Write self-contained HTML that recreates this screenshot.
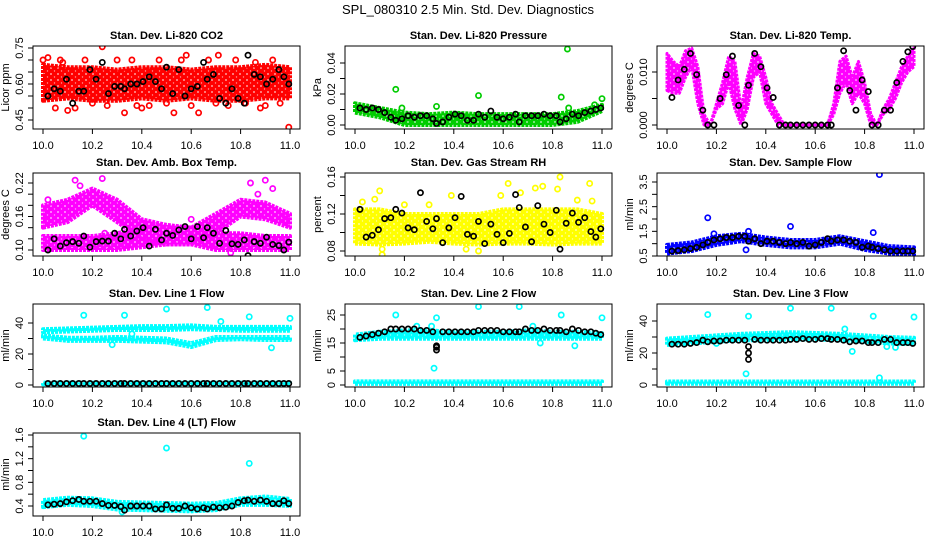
<!DOCTYPE html>
<html><head><meta charset="utf-8"><style>
html,body{margin:0;padding:0;background:#fff;}
svg{display:block;font-family:"Liberation Sans",sans-serif;}
</style></head><body>
<svg id="chart" width="936" height="540" viewBox="0 0 936 540">
<text x="468" y="14" text-anchor="middle" font-size="13">SPL_080310  2.5 Min. Std. Dev. Diagnostics</text>
</svg>
<script>
const xs11 = [10.0,10.1,10.2,10.3,10.4,10.5,10.6,10.7,10.8,10.9,11.0];
const xs41 = [10.000,10.025,10.050,10.075,10.100,10.125,10.150,10.175,10.200,10.225,10.250,10.275,10.300,10.325,10.350,10.375,10.400,10.425,10.450,10.475,10.500,10.525,10.550,10.575,10.600,10.625,10.650,10.675,10.700,10.725,10.750,10.775,10.800,10.825,10.850,10.875,10.900,10.925,10.950,10.975,11.000];
const xTicks = [10.0,10.2,10.4,10.6,10.8,11.0];
const xTickLabels = ["10.0","10.2","10.4","10.6","10.8","11.0"];
const blackX = [10.02,10.045,10.07,10.095,10.12,10.145,10.165,10.19,10.215,10.24,10.265,10.29,10.315,10.33,10.355,10.38,10.405,10.43,10.455,10.48,10.5,10.525,10.55,10.575,10.6,10.625,10.65,10.665,10.69,10.715,10.74,10.765,10.79,10.815,10.83,10.855,10.88,10.905,10.93,10.955,10.975,10.995];

const p1Lo = [0.53,0.54,0.53,0.53,0.54,0.53,0.54,0.53,0.53,0.54,0.54];
const p1Hi = [0.68,0.67,0.67,0.66,0.67,0.67,0.66,0.67,0.67,0.68,0.67];
const p1ScX = [10.0,10.02,10.05,10.07,10.1,10.13,10.17,10.2,10.24,10.26,10.3,10.33,10.36,10.4,10.43,10.47,10.5,10.53,10.56,10.6,10.63,10.67,10.7,10.71,10.75,10.78,10.82,10.86,10.9,10.93,10.96,10.995,10.08,10.38,10.58,10.88];
const p1ScY = [0.70,0.71,0.50,0.70,0.49,0.50,0.70,0.52,0.755,0.51,0.70,0.48,0.70,0.50,0.51,0.70,0.52,0.48,0.70,0.51,0.48,0.70,0.52,0.72,0.51,0.70,0.52,0.69,0.51,0.70,0.52,0.42,0.69,0.51,0.72,0.50];
const p1Black = [0.55,0.58,0.57,0.62,0.52,0.57,0.57,0.66,0.62,0.69,0.56,0.59,0.59,0.58,0.60,0.60,0.61,0.63,0.61,0.58,0.67,0.56,0.66,0.55,0.58,0.59,0.69,0.62,0.64,0.54,0.52,0.58,0.54,0.52,0.72,0.64,0.63,0.60,0.62,0.66,0.63,0.60];
const p2Lo = [0.008,0.005,0,0,0,0,0,0,0,0.002,0.009];
const p2Hi = [0.014,0.011,0.008,0.007,0.008,0.007,0.007,0.007,0.007,0.009,0.013];
const p2ScX = [10.165,10.5,10.835,10.86,11.0,10.19,10.33,10.865,10.97];
const p2ScY = [0.023,0.019,0.018,0.049,0.017,0.011,0.012,0.011,0.013];
const p2Black = [0.011,0.010,0.011,0.010,0.008,0.005,0.003,0.004,0.006,0.005,0.006,0.006,0.004,0.001,0.002,0.005,0.007,0.006,0.003,0.003,0.007,0.005,0.009,0.005,0.004,0.005,0.007,0.002,0.006,0.006,0.006,0.007,0.006,0.006,0.002,0.004,0.007,0.006,0.008,0.009,0.010,0.011];
const p3Lo = [0.0065,0.006,0.006,0.009,0.011,0.004,0,0,0.003,0.004,0.008,0.003,0,0.003,0.009,0.010,0.004,0.002,0,0,0,0,0,0,0,0,0,0.002,0.006,0.008,0.004,0.006,0.004,0,0,0.002,0.003,0.005,0.008,0.010,0.011];
const p3Hi = [0.0135,0.012,0.011,0.014,0.0145,0.011,0.002,0,0.004,0.008,0.013,0.012,0.003,0.009,0.0135,0.013,0.009,0.004,0.002,0,0,0,0,0,0,0,0,0.004,0.012,0.013,0.009,0.012,0.008,0.002,0,0.003,0.005,0.008,0.011,0.013,0.0145];
const p3Black = [0.0052,0.0085,0.0105,0.0135,0.0095,0.0028,0,0,0.005,0.0095,0.013,0.0037,0,0.0075,0.0135,0.011,0.007,0.0052,0,0,0,0,0,0,0,0,0,0,0.007,0.014,0.0065,0.0028,0.0085,0.0063,0,0,0.0028,0.0028,0.008,0.012,0.0138,0.0148];
const p4LoA = [0.10,0.10,0.10,0.10,0.105,0.11,0.11,0.10,0.10,0.10,0.10];
const p4HiA = [0.125,0.125,0.125,0.13,0.14,0.14,0.14,0.13,0.13,0.125,0.125];
const p4LoB = [0.14,0.15,0.18,0.15,0.12,0.11,0.11,0.13,0.16,0.155,0.14];
const p4HiB = [0.18,0.19,0.21,0.19,0.155,0.145,0.14,0.165,0.19,0.185,0.165];
const p4ScX = [10.02,10.13,10.15,10.24,10.25,10.9,10.93,10.76,10.6,10.87,10.98,10.84];
const p4ScY = [0.19,0.225,0.215,0.228,0.13,0.225,0.21,0.095,0.155,0.20,0.16,0.22];
const p4Black = [0.10,0.12,0.107,0.113,0.115,0.112,0.125,0.105,0.115,0.116,0.116,0.13,0.12,0.137,0.125,0.134,0.14,0.107,0.137,0.118,0.13,0.126,0.136,0.142,0.12,0.142,0.122,0.14,0.13,0.112,0.135,0.111,0.11,0.118,0.09,0.115,0.112,0.123,0.11,0.108,0.100,0.114];
const p5Lo = [0.088,0.087,0.088,0.09,0.088,0.087,0.088,0.088,0.087,0.088,0.088];
const p5Hi = [0.125,0.125,0.12,0.12,0.12,0.12,0.125,0.125,0.125,0.125,0.12];
const p5ScX = [10.03,10.1,10.11,10.08,10.39,10.62,10.67,10.73,10.82,10.83,10.95,10.96,10.5,10.2,10.3,10.9,10.76,10.59,10.45,10.11];
const p5ScY = [0.133,0.145,0.076,0.136,0.14,0.153,0.143,0.148,0.147,0.16,0.153,0.134,0.08,0.13,0.13,0.135,0.15,0.14,0.082,0.082];
const p5Black = [0.125,0.095,0.097,0.103,0.115,0.116,0.125,0.121,0.105,0.103,0.143,0.112,0.104,0.115,0.089,0.105,0.116,0.139,0.098,0.096,0.112,0.088,0.109,0.098,0.089,0.099,0.141,0.127,0.106,0.09,0.129,0.109,0.10,0.124,0.082,0.11,0.121,0.111,0.116,0.101,0.095,0.104];
const p6Lo = [0.6,0.7,0.95,1.1,0.95,0.85,0.85,1.0,0.75,0.6,0.55];
const p6Hi = [0.95,1.05,1.3,1.4,1.25,1.15,1.15,1.3,1.1,0.9,0.85];
const p6ScX = [10.165,10.5,10.835,10.86,10.32,10.19,10.33];
const p6ScY = [2.05,1.7,1.45,3.8,0.75,1.4,1.5];
const p6Black = [0.7,0.72,0.75,0.8,0.85,0.95,1.05,1.15,1.2,1.25,1.25,1.3,1.3,1.1,1.2,1.0,1.1,1.1,1.05,1.0,1.05,1.0,1.05,0.9,0.95,1.05,1.2,1.1,1.15,1.15,1.1,1.05,0.85,0.9,0.85,0.8,0.75,0.7,0.7,0.7,0.7,0.7];
const p7LoA = [34,34.5,35,35.5,35.5,35.5,36,35.5,35,35,35];
const p7HiA = [36,36.5,37,37.5,38,38,38.5,37.5,37.5,37.5,37.5];
const p7LoB = [30,28.5,28.5,28.5,28,27.5,24.5,29,29.5,29,29];
const p7HiB = [32,30.5,30.5,31,30.5,30,27,31,31,31,31];
const p7LoC = [0.5,0.5,0.5,0.5,0.5,0.5,0.5,0.5,0.5,0.5,0.5];
const p7HiC = [1.5,1.5,1.5,1.5,1.5,1.5,1.5,1.5,1.5,1.5,1.5];
const p7ScX = [10.165,10.33,10.5,10.665,10.72,10.835,10.925,11.0,10.28,10.36];
const p7ScY = [45,45,49,50,41,44,24,43,26,33];
const p7Black = [1,1,1,1,1,1,1,1,1,1,1,1,1,1,1,1,1,1,1,1,1,1,1,1,1,1,1,1,1,1,1,1,1,1,1,1,1,1,1,1,1,1];
const p8LoA = [16,16.5,16.5,16.5,16.5,16.5,16.5,16.5,16.5,16.5,16.5];
const p8HiA = [18,19,19.5,19.5,19,19,19,19.5,19,19,18.5];
const p8LoB = [0.4,0.4,0.4,0.4,0.4,0.4,0.4,0.4,0.4,0.4,0.4];
const p8HiB = [1.3,1.3,1.3,1.3,1.3,1.3,1.3,1.3,1.3,1.3,1.3];
const p8ScX = [10.165,10.33,10.5,10.665,10.835,11.0,10.32,10.75,10.89,10.25,10.31,10.72];
const p8ScY = [25,24,28,28,25,24,6,15,14,21,21,21];
const p8Black = [17,17.5,18,18.5,19,20,20,20,20,20,19.5,19.5,19,14,19,19,19,19,19,19,19.5,19.5,19.5,19.5,19,19,19,19,20,19.5,19.5,20,19.5,19.5,19.5,19,20,19.5,19,19,18.5,18];
const p8ExX = [10.33,10.33]; const p8ExY = [12.5,13.5];
const p9LoA = [25,26,27,28,28,28.5,28.5,28,27,26,25.5];
const p9HiA = [29,30,31,32,32.5,33,32.5,32,31,30,29.5];
const p9LoB = [0.8,0.8,0.8,0.8,0.8,0.8,0.8,0.8,0.8,0.8,0.8];
const p9HiB = [2.2,2.2,2.2,2.2,2.2,2.2,2.2,2.2,2.2,2.2,2.2];
const p9ScX = [10.165,10.33,10.5,10.665,10.72,10.75,10.835,10.89,10.925,11.0,10.32,10.86,10.2];
const p9ScY = [44,43,48,48,35,21,43,24,23.5,42.5,7,4.5,26];
const p9Black = [25.5,25.5,25.5,26,26.5,28,27,27.5,27.5,28,28,28,28,24,28.5,28,28,28,28,28,28.5,28.5,29,28.5,28.5,29,29,28.5,28.5,28,27,27.5,27.5,26.5,26.5,26.5,28.5,28.5,26.5,26.5,26.5,26];
const p9ExX = [10.33,10.33]; const p9ExY = [20,16];
const p10Lo = [0.38,0.42,0.40,0.34,0.33,0.32,0.31,0.33,0.42,0.42,0.40];
const p10Hi = [0.50,0.54,0.53,0.47,0.46,0.45,0.44,0.45,0.53,0.56,0.52];
const p10ScX = [10.165,10.5,10.835,10.32];
const p10ScY = [1.58,1.38,1.12,0.30];
const p10Black = [0.42,0.43,0.44,0.47,0.49,0.51,0.48,0.48,0.48,0.44,0.41,0.41,0.39,0.33,0.40,0.40,0.40,0.40,0.35,0.35,0.42,0.36,0.36,0.40,0.37,0.35,0.37,0.35,0.38,0.37,0.38,0.40,0.46,0.49,0.50,0.48,0.50,0.48,0.44,0.44,0.49,0.44];

const NS = "http://www.w3.org/2000/svg";
const svg = document.getElementById("chart");
const rowTop = [46,173,304,433], boxH = 83;
function mk(tag, attrs, parent){const e=document.createElementNS(NS,tag);for(const k in attrs)e.setAttribute(k,attrs[k]);(parent||svg).appendChild(e);return e;}
const defs = mk("defs",{});

const panels = [
 {id:"co2",title:"Stan. Dev. Li-820 CO2",ylab:"Licor ppm",col:0,row:0,color:"#ff0000",t:[0.75,48,0.45,120],ticks:[0.45,0.5,0.55,0.6,0.65,0.7,0.75],labs:[0.45,0.60,0.75],dec:2,bands:[[xs11,p1Lo,p1Hi]],sx:p1ScX,sy:p1ScY,black:p1Black,sw:4},
 {id:"pressure",title:"Stan. Dev. Li-820 Pressure",ylab:"kPa",col:1,row:0,color:"#00cc00",t:[0,125,0.04,63],ticks:[0,0.01,0.02,0.03,0.04],labs:[0,0.02,0.04],dec:2,bands:[[xs11,p2Lo,p2Hi]],sx:p2ScX,sy:p2ScY,black:p2Black,sw:4},
 {id:"temp",title:"Stan. Dev. Li-820 Temp.",ylab:"degrees C",col:2,row:0,color:"#ff00ff",t:[0,125,0.01,72],ticks:[0,0.005,0.01],labs:[0,0.01],dec:3,bands:[[xs41,p3Lo,p3Hi]],sx:[],sy:[],black:p3Black,sw:3},
 {id:"amb-temp",title:"Stan. Dev. Amb. Box Temp.",ylab:"degrees C",col:0,row:1,color:"#ff00ff",t:[0.10,250,0.22,183],ticks:[0.1,0.12,0.14,0.16,0.18,0.2,0.22],labs:[0.10,0.16,0.22],dec:2,bands:[[xs11,p4LoA,p4HiA],[xs11,p4LoB,p4HiB]],sx:p4ScX,sy:p4ScY,black:p4Black,sw:4},
 {id:"rh",title:"Stan. Dev. Gas Stream RH",ylab:"percent",col:1,row:1,color:"#ffff00",t:[0.08,251,0.16,177],ticks:[0.08,0.1,0.12,0.14,0.16],labs:[0.08,0.12,0.16],dec:2,bands:[[xs11,p5Lo,p5Hi]],sx:p5ScX,sy:p5ScY,black:p5Black,sw:4},
 {id:"sample-flow",title:"Stan. Dev. Sample Flow",ylab:"ml/min",col:2,row:1,color:"#0000ff",t:[0.5,256,3.5,182],ticks:[0.5,1,1.5,2,2.5,3,3.5],labs:[0.5,1.5,2.5,3.5],dec:1,bands:[[xs11,p6Lo,p6Hi]],sx:p6ScX,sy:p6ScY,black:p6Black,sw:4},
 {id:"line1",title:"Stan. Dev. Line 1 Flow",ylab:"ml/min",col:0,row:2,color:"#00ffff",t:[0,385,40,323],ticks:[0,10,20,30,40],labs:[0,20,40],dec:0,bands:[[xs11,p7LoA,p7HiA],[xs11,p7LoB,p7HiB],[xs11,p7LoC,p7HiC]],sx:p7ScX,sy:p7ScY,black:p7Black,sw:4},
 {id:"line2",title:"Stan. Dev. Line 2 Flow",ylab:"ml/min",col:1,row:2,color:"#00ffff",t:[0,385,25,315],ticks:[0,5,10,15,20,25],labs:[0,5,15,25],dec:0,bands:[[xs11,p8LoA,p8HiA],[xs11,p8LoB,p8HiB]],sx:p8ScX,sy:p8ScY,black:p8Black,ex:[p8ExX,p8ExY],sw:4},
 {id:"line3",title:"Stan. Dev. Line 3 Flow",ylab:"ml/min",col:2,row:2,color:"#00ffff",t:[0,385,40,321],ticks:[0,10,20,30,40],labs:[0,20,40],dec:0,bands:[[xs11,p9LoA,p9HiA],[xs11,p9LoB,p9HiB]],sx:p9ScX,sy:p9ScY,black:p9Black,ex:[p9ExX,p9ExY],sw:4},
 {id:"line4",title:"Stan. Dev. Line 4 (LT) Flow",ylab:"ml/min",col:0,row:3,color:"#00ffff",t:[0.4,506,1.6,435],ticks:[0.4,0.6,0.8,1.0,1.2,1.4,1.6],labs:[0.4,0.8,1.2,1.6],dec:1,bands:[[xs11,p10Lo,p10Hi]],sx:p10ScX,sy:p10ScY,black:p10Black,sw:4}
];

panels.forEach(p=>{
  const L=33+312*p.col, R=300+312*p.col, T=rowTop[p.row], B=T+boxH;
  const xs=v=>43+312*p.col+(v-10)*247;
  const ys=v=>p.t[1]+(v-p.t[0])*(p.t[3]-p.t[1])/(p.t[2]-p.t[0]);
  const pat=mk("pattern",{id:"pat-"+p.id,width:7,height:6,patternUnits:"userSpaceOnUse"},defs);
  mk("rect",{width:7,height:6,fill:p.color},pat);
  mk("circle",{cx:2,cy:2,r:0.9,fill:"#fff","fill-opacity":0.8},pat);
  mk("circle",{cx:5.5,cy:5,r:0.7,fill:"#fff","fill-opacity":0.6},pat);
  const g=mk("g",{});
  
  
  const cp=mk("clipPath",{id:"cp-"+p.id},g); mk("rect",{x:L,y:T,width:R-L,height:B-T},cp);
  const data=mk("g",{"clip-path":"url(#cp-"+p.id+")"},g);
  p.bands.forEach((b,bi)=>{
    const [bx,lo,hi]=b; let pts=[];
    for(let i=0;i<bx.length;i++)pts.push(xs(bx[i])+","+ys(lo[i]));
    for(let i=bx.length-1;i>=0;i--)pts.push(xs(bx[i])+","+ys(hi[i]));
    const pg=mk("polygon",{points:pts.join(" "),fill:"url(#pat-"+p.id+")",stroke:p.color,"stroke-width":p.sw,"stroke-linejoin":"round","stroke-dasharray":"3 1"},data);
    
    
  });
  for(let i=0;i<p.sx.length;i++){
    const c=mk("circle",{cx:xs(p.sx[i]),cy:ys(p.sy[i]),r:2.6,fill:"none",stroke:p.color,"stroke-width":1.7},data);
    
    
  }
  const bxs=blackX.slice(), bys=p.black.slice();
  if(p.ex){bxs.push(...p.ex[0]);bys.push(...p.ex[1]);}
  for(let i=0;i<bxs.length;i++){
    const c=mk("circle",{cx:xs(bxs[i]),cy:ys(bys[i]),r:2.6,fill:"none",stroke:"#000","stroke-width":1.7},data);
    
    
  }
  const box=mk("rect",{x:L,y:T,width:R-L,height:B-T,fill:"none",stroke:"#000","stroke-width":1},g);
  
  
  const ttl=mk("text",{x:(L+R)/2,y:T-7,"text-anchor":"middle","font-size":11,"font-weight":"bold"},g); ttl.textContent=p.title;
  
  
  const xa=mk("g",{},g);
  
  
  mk("line",{x1:xs(xTicks[0]),x2:xs(xTicks[xTicks.length-1]),y1:B,y2:B,stroke:"#000"},xa);
  xTicks.forEach((v,i)=>{
    mk("line",{x1:xs(v),x2:xs(v),y1:B,y2:B+5,stroke:"#000"},xa);
    const t=mk("text",{x:xs(v),y:B+20,"text-anchor":"middle","font-size":11},xa); t.textContent=xTickLabels[i];
  });
  const ya=mk("g",{},g);
  
  
  mk("line",{x1:L,x2:L,y1:ys(p.ticks[0]),y2:ys(p.ticks[p.ticks.length-1]),stroke:"#000"},ya);
  p.ticks.forEach(v=>mk("line",{x1:L-5,x2:L,y1:ys(v),y2:ys(v),stroke:"#000"},ya));
  p.labs.forEach(v=>{
    const yy=ys(v), xx=L-10;
    const t=mk("text",{x:xx,y:yy,"text-anchor":"middle","font-size":11,transform:"rotate(-90 "+xx+" "+yy+")"},ya);
    t.textContent=v.toFixed(p.dec);
  });
  const yl=mk("text",{x:L-24,y:(T+B)/2,"text-anchor":"middle","font-size":11,transform:"rotate(-90 "+(L-24)+" "+(T+B)/2+")"},g);
  yl.textContent=p.ylab;
  
  
});
</script>
</body></html>
